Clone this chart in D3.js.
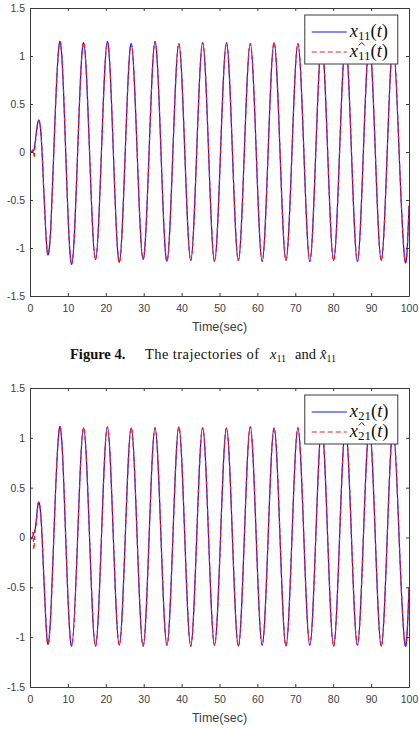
<!DOCTYPE html>
<html>
<head>
<meta charset="utf-8">
<script src="https://cdn.jsdelivr.net/npm/d3@7"></script>
<style>
  body { margin: 0; background: #fff; }
  svg { display: block; }
</style>
</head>
<body>
<div id="chart"></div>
<script>
const xTicks = [0, 10, 20, 30, 40, 50, 60, 70, 80, 90, 100];
const yTicks = [-1.5, -1, -0.5, 0, 0.5, 1, 1.5];

// shared grid of the steady oscillation: zero, peak, zero, trough ...
const cycleTime = [
  6.28, 7.85, 9.42, 10.99, 12.57, 14.14, 15.71, 17.28, 18.85, 20.42, 21.99, 23.56,
  25.13, 26.70, 28.27, 29.85, 31.42, 32.99, 34.56, 36.13, 37.70, 39.27, 40.84, 42.41,
  43.98, 45.55, 47.12, 48.69, 50.27, 51.84, 53.41, 54.98, 56.55, 58.12, 59.69, 61.26,
  62.83, 64.40, 65.97, 67.54, 69.12, 70.69, 72.26, 73.83, 75.40, 76.97, 78.54, 80.11,
  81.68, 83.25, 84.82, 86.39, 87.96, 89.54, 91.11, 92.68, 94.25, 95.82, 97.39, 98.96, 100
];

const x11Cycle = [
  0, 1.15, 0, -1.17,
  0, 1.14, 0, -1.12,
  0, 1.15, 0, -1.15,
  0, 1.13, 0, -1.12,
  0, 1.15, 0, -1.14,
  0, 1.13, 0, -1.13,
  0, 1.14, 0, -1.14,
  0, 1.14, 0, -1.13,
  0, 1.13, 0, -1.14,
  0, 1.14, 0, -1.13,
  0, 1.13, 0, -1.14,
  0, 1.14, 0, -1.13,
  0, 1.13, 0, -1.14,
  0, 1.14, 0, -1.13,
  0, 1.13, 0, -1.14,
  -0.56
];

const x21Cycle = [
  0, 1.11, 0, -1.09,
  0, 1.10, 0, -1.09,
  0, 1.11, 0, -1.08,
  0, 1.10, 0, -1.09,
  0, 1.10, 0, -1.08,
  0, 1.11, 0, -1.09,
  0, 1.10, 0, -1.08,
  0, 1.10, 0, -1.09,
  0, 1.11, 0, -1.08,
  0, 1.10, 0, -1.09,
  0, 1.10, 0, -1.08,
  0, 1.11, 0, -1.09,
  0, 1.10, 0, -1.08,
  0, 1.10, 0, -1.09,
  0, 1.10, 0, -1.08,
  -0.50
];

// transient at the start of each signal
const x11StartTime = [0, 0.8, 1.2, 1.8, 2.4, 3.0, 3.6, 4.2, 4.8, 5.5];
const x11Start = [0, 0.01, 0.05, 0.24, 0.33, 0.13, -0.37, -0.86, -1.07, -0.78];
const x11HatStartTime = [0, 0.5, 0.9, 1.1, 1.35, 1.8, 2.4, 3.0, 3.6, 4.2, 4.8, 5.5];
const x11HatStart = [0, 0.01, 0.02, -0.06, 0.06, 0.23, 0.33, 0.13, -0.37, -0.86, -1.07, -0.78];

const x21StartTime = [0, 0.6, 1.0, 1.4, 1.9, 2.4, 3.0, 3.6, 4.2, 4.8, 5.5];
const x21Start = [0, 0.0, 0.04, 0.09, 0.27, 0.35, 0.14, -0.36, -0.85, -1.07, -0.76];
const x21HatStartTime = [0, 0.5, 0.8, 1.0, 1.3, 1.6, 2.0, 2.4, 3.0, 3.6, 4.2, 4.8, 5.5];
const x21HatStart = [-0.01, 0.0, 0.04, -0.12, 0.05, 0.12, 0.29, 0.35, 0.14, -0.36, -0.85, -1.07, -0.76];

function series(startTime, startVals, cycleVals) {
  return startTime.map((t, i) => ({ t: t, v: startVals[i] }))
    .concat(cycleTime.map((t, i) => ({ t: t, v: cycleVals[i] })));
}

class trajectoryPlot {
  constructor(svg, config) {
    this.svg = svg;
    this.config = config;
    this.width = config.right - config.left;
    this.height = config.bottom - config.top;
    this.createMargins();
    this.createScales();
  }

  createMargins() {
    this.margins = this.svg.append('g')
      .attr('transform', `translate(${this.config.left},${this.config.top})`);
    this.margins.append('clipPath')
      .attr('id', this.config.id + '-clip')
      .append('rect')
      .attr('width', this.width)
      .attr('height', this.height);
  }

  createScales() {
    this.xScale = d3.scaleLinear().domain([0, 100]).range([0, this.width]);
    this.yScale = d3.scaleLinear().domain([-1.5, 1.5]).range([this.height, 0]);
  }

  renderLines() {
    const line = d3.line()
      .x(d => this.xScale(d.t))
      .y(d => this.yScale(d.v))
      .curve(d3.curveNatural);

    const g = this.margins.append('g')
      .attr('clip-path', `url(#${this.config.id}-clip)`);

    g.append('path')
      .datum(this.config.actual)
      .attr('fill', 'none')
      .attr('stroke', '#1010ff')
      .attr('stroke-width', 1.2)
      .attr('d', line);

    g.append('path')
      .datum(this.config.estimate)
      .attr('fill', 'none')
      .attr('stroke', '#ff1a1a')
      .attr('stroke-width', 1.2)
      .attr('stroke-dasharray', '4,3')
      .attr('d', line);
  }

  createAxis() {
    const fmt = d => String(d);
    const axisColor = '#3a3a3a';

    const xAxis = d3.axisBottom(this.xScale).tickValues(xTicks).tickFormat(fmt)
      .tickSizeInner(-3).tickSizeOuter(0).tickPadding(9);
    const yAxis = d3.axisLeft(this.yScale).tickValues(yTicks).tickFormat(fmt)
      .tickSizeInner(-3).tickSizeOuter(0).tickPadding(5);
    const xTop = d3.axisTop(this.xScale).tickValues(xTicks).tickFormat('')
      .tickSizeInner(-3).tickSizeOuter(0);
    const yRight = d3.axisRight(this.yScale).tickValues(yTicks).tickFormat('')
      .tickSizeInner(-3).tickSizeOuter(0);

    const axes = [
      this.margins.append('g').attr('transform', `translate(0,${this.height})`).call(xAxis),
      this.margins.append('g').call(yAxis),
      this.margins.append('g').call(xTop),
      this.margins.append('g').attr('transform', `translate(${this.width},0)`).call(yRight)
    ];
    axes.forEach(a => {
      a.selectAll('path, line').attr('stroke', axisColor);
      a.selectAll('text')
        .attr('fill', '#404040')
        .attr('font-family', 'Liberation Sans, Arial, sans-serif')
        .attr('font-size', 10.5);
    });

    this.margins.append('text')
      .attr('x', this.width / 2)
      .attr('y', this.height + 35)
      .attr('text-anchor', 'middle')
      .attr('fill', '#404040')
      .attr('font-family', 'Liberation Sans, Arial, sans-serif')
      .attr('font-size', 12.5)
      .text('Time(sec)');
  }

  mathLabel(x, y, sub, hat) {
    const t = this.margins.append('text')
      .attr('x', x)
      .attr('y', y)
      .attr('fill', '#111')
      .attr('font-family', 'Liberation Serif, DejaVu Serif, serif')
      .attr('font-size', 18.5);
    t.append('tspan').attr('font-style', 'italic').text('x');
    t.append('tspan').attr('font-size', 13).attr('dy', 3).text(sub);
    t.append('tspan').attr('dy', -3).text('(');
    t.append('tspan').attr('font-style', 'italic').text('t');
    t.append('tspan').text(')');
    if (hat) {
      // the hat accent sits over the symbol group
      this.margins.append('path')
        .attr('d', `M${x + 9},${y - 11.5}L${x + 12},${y - 14.5}L${x + 15},${y - 11.5}`)
        .attr('fill', 'none')
        .attr('stroke', '#111')
        .attr('stroke-width', 0.9);
    }
  }

  renderLegend() {
    const bx = this.xScale(72.5), by = 7, bw = 93, bh = 49;
    this.margins.append('rect')
      .attr('x', bx)
      .attr('y', by)
      .attr('width', bw)
      .attr('height', bh)
      .attr('fill', '#fff')
      .attr('stroke', '#3a3a3a')
      .attr('stroke-width', 1);

    const rows = [by + 17, by + 37];
    this.margins.append('line')
      .attr('x1', bx + 7).attr('x2', bx + 42)
      .attr('y1', rows[0]).attr('y2', rows[0])
      .attr('stroke', '#1010ff').attr('stroke-width', 1.2);
    this.margins.append('line')
      .attr('x1', bx + 7).attr('x2', bx + 42)
      .attr('y1', rows[1]).attr('y2', rows[1])
      .attr('stroke', '#ff1a1a').attr('stroke-width', 1.2)
      .attr('stroke-dasharray', '5,3');

    this.mathLabel(bx + 45, rows[0] + 5, this.config.sub, false);
    this.mathLabel(bx + 45, rows[1] + 5, this.config.sub, true);
  }

  render() {
    this.renderLines();
    this.createAxis();
    this.renderLegend();
  }
}

function renderCaption(svg) {
  const serif = 'Liberation Serif, Times New Roman, serif';
  const y = 359;
  svg.append('text').attr('x', 70).attr('y', y)
    .attr('font-family', serif).attr('font-size', 14.5).attr('font-weight', 'bold')
    .attr('fill', '#111').text('Figure 4.');
  svg.append('text').attr('x', 145).attr('y', y)
    .attr('font-family', serif).attr('font-size', 14.5)
    .attr('textLength', 114).attr('lengthAdjust', 'spacing')
    .attr('fill', '#111').text('The trajectories of');

  const m1 = svg.append('text').attr('x', 270).attr('y', y)
    .attr('font-family', serif).attr('font-size', 14.5).attr('fill', '#111');
  m1.append('tspan').attr('font-style', 'italic').text('x');
  m1.append('tspan').attr('font-size', 10).attr('dy', 3).text('11');

  svg.append('text').attr('x', 295).attr('y', y)
    .attr('font-family', serif).attr('font-size', 14.5)
    .attr('fill', '#111').text('and');

  const m2 = svg.append('text').attr('x', 320).attr('y', y)
    .attr('font-family', serif).attr('font-size', 14.5).attr('fill', '#111');
  m2.append('tspan').attr('font-style', 'italic').text('x\u0302');
  m2.append('tspan').attr('font-size', 10).attr('dy', 3).text('11');
}

function main() {
  const svg = d3.select('#chart')
    .append('svg')
    .attr('width', 419)
    .attr('height', 731)
    .style('background', '#fff');

  const top = new trajectoryPlot(svg, {
    id: 'p1', left: 30, right: 409, top: 8, bottom: 296, sub: '11',
    actual: series(x11StartTime, x11Start, x11Cycle),
    estimate: series(x11HatStartTime, x11HatStart, x11Cycle)
  });
  top.render();

  renderCaption(svg);

  const bottom = new trajectoryPlot(svg, {
    id: 'p2', left: 30, right: 409, top: 388, bottom: 687, sub: '21',
    actual: series(x21StartTime, x21Start, x21Cycle),
    estimate: series(x21HatStartTime, x21HatStart, x21Cycle)
  });
  bottom.render();
}

main();
</script>
</body>
</html>
